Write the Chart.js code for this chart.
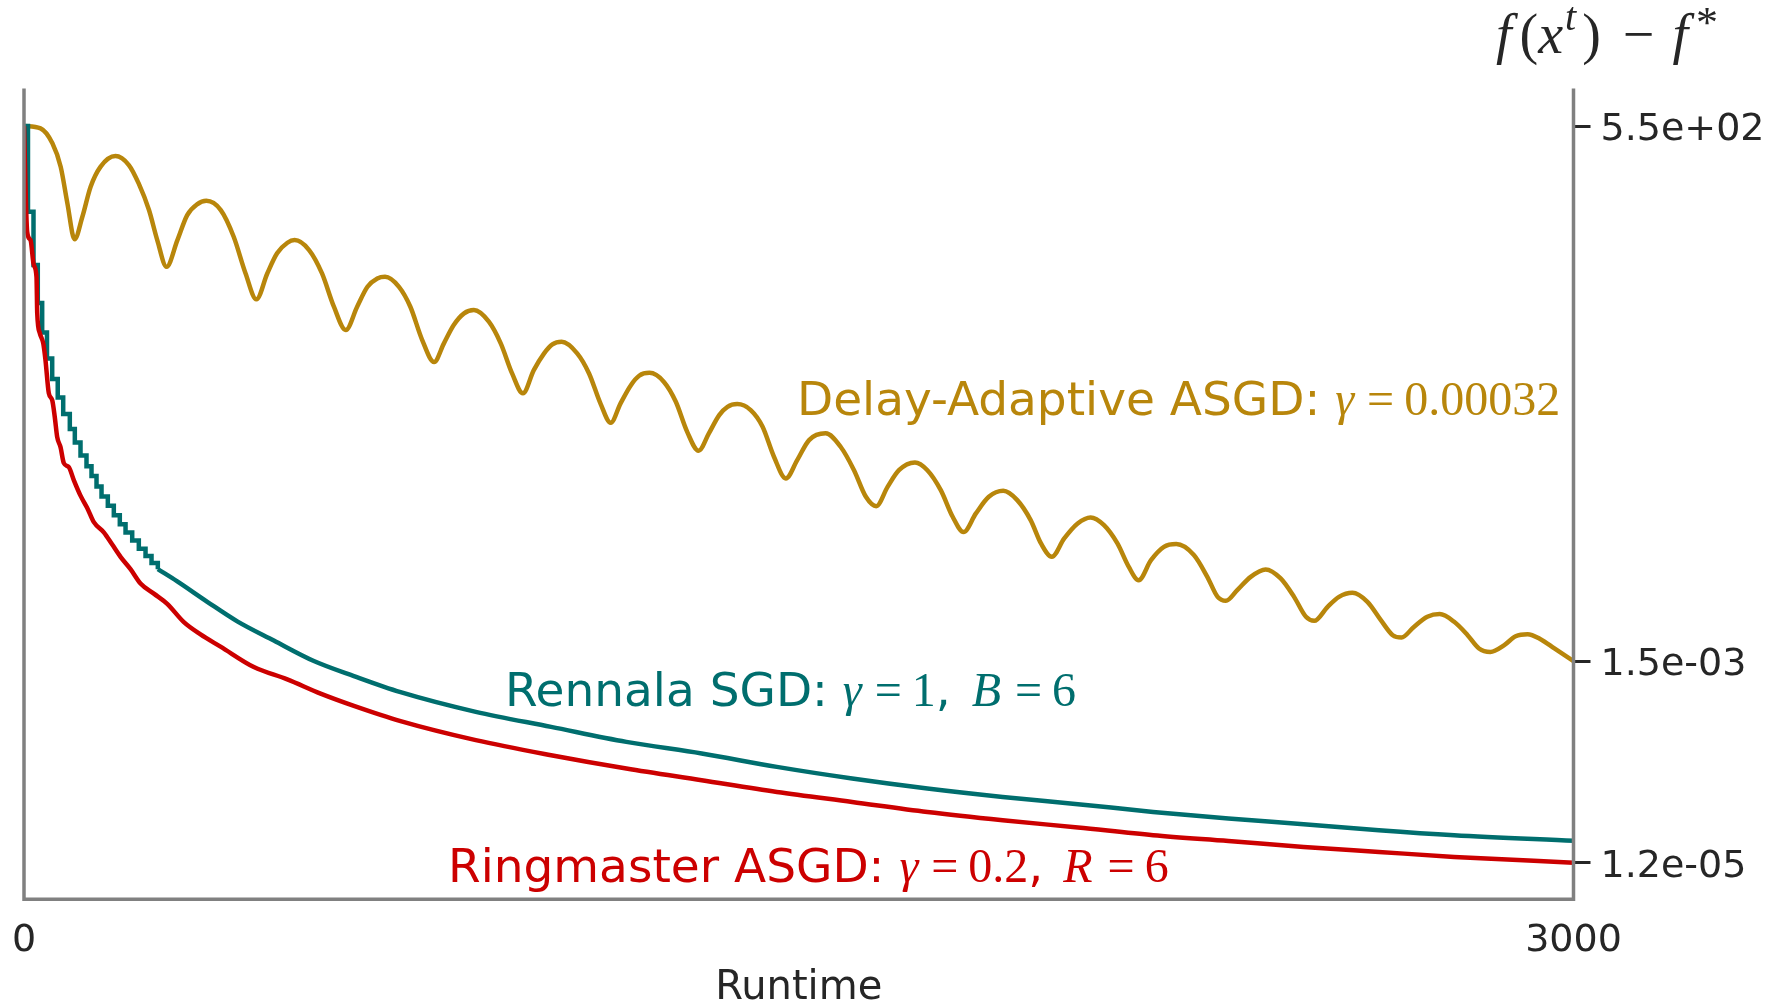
<!DOCTYPE html>
<html>
<head>
<meta charset="utf-8">
<script src="https://cdn.jsdelivr.net/npm/chart.js@4.4.1/dist/chart.umd.min.js"></script>
<style>
  html, body { margin: 0; padding: 0; background: #fff; }
  canvas { display: block; }
</style>
</head>
<body>
<canvas id="runtimeChart" width="1770" height="1005"></canvas>
<script>
// Delay-Adaptive ASGD
const delayTimes = [0, 32, 55, 71, 84, 98, 113, 129, 148, 177, 203, 222, 242, 258, 276, 297, 316, 335, 353, 381, 406, 429, 450, 471, 490, 510, 524, 552, 577, 600, 623, 645, 665, 684, 699, 726, 748, 771, 794, 813, 832, 852, 871, 900, 923, 945, 966, 987, 1007, 1023, 1041, 1071, 1094, 1116, 1136, 1155, 1175, 1191, 1211, 1239, 1262, 1284, 1306, 1326, 1346, 1362, 1381, 1407, 1430, 1452, 1475, 1497, 1520, 1552, 1581, 1607, 1630, 1650, 1672, 1694, 1725, 1749, 1775, 1798, 1819, 1843, 1868, 1896, 1923, 1949, 1969, 1990, 2014, 2040, 2065, 2091, 2117, 2139, 2158, 2182, 2207, 2231, 2265, 2291, 2311, 2327, 2349, 2375, 2404, 2433, 2459, 2482, 2498, 2524, 2546, 2572, 2601, 2627, 2650, 2667, 2691, 2717, 2741, 2769, 2795, 2817, 2839, 2866, 2888, 2911, 2937, 2963, 3000];
const delayLoss = [550, 520, 363, 207, 86.3, 36.5, 62.6, 128.5, 207, 268, 216, 139, 73.5, 35.8, 18.9, 35.8, 65.2, 84.3, 91.8, 73.5, 38.8, 16.1, 8.66, 16.1, 26.1, 33.6, 35.8, 28.2, 16.1, 7.26, 4.15, 7.26, 11.7, 14.3, 14.9, 11.7, 7.26, 3.27, 1.93, 3.02, 4.68, 6.19, 6.70, 5.07, 3.02, 1.47, 0.912, 1.59, 2.38, 2.95, 3.14, 2.38, 1.47, 0.718, 0.451, 0.718, 1.11, 1.39, 1.49, 1.20, 0.746, 0.363, 0.231, 0.350, 0.542, 0.661, 0.706, 0.611, 0.410, 0.200, 0.119, 0.1845, 0.298, 0.350, 0.254, 0.145, 0.0766, 0.0613, 0.0973, 0.145, 0.1746, 0.145, 0.0899, 0.0475, 0.0329, 0.0515, 0.0766, 0.0885, 0.0708, 0.0439, 0.0251, 0.0182, 0.0283, 0.0405, 0.0468, 0.0389, 0.0251, 0.0143, 0.0104, 0.0168, 0.0231, 0.0247, 0.0190, 0.01128, 0.00698, 0.00635, 0.0082, 0.01128, 0.01346, 0.01085, 0.00698, 0.00433, 0.00393, 0.0055, 0.00698, 0.00769, 0.00619, 0.0040, 0.00279, 0.00264, 0.0034, 0.00433, 0.00462, 0.00384, 0.00279, 0.00203, 0.00187, 0.0022, 0.00272, 0.00286, 0.00252, 0.00203, 0.0015];

// Rennala SGD: staircase at the start, then a smooth tail
const rennalaStepTimes = [0, 7.7, 18.4, 26.7, 35.2, 44.5, 54.6, 65.3, 75.9, 88.7, 98.4, 109.4, 121.0, 130.7, 140.4, 150.1, 162.3, 173.9, 185.5, 196.6, 209.5, 222.3, 235.3, 246.9, 259.1];
const rennalaStepLoss = [550, 70.6, 19.7, 7.93, 3.91, 2.10, 1.284, 0.824, 0.557, 0.388, 0.281, 0.206, 0.159, 0.126, 0.0978, 0.0774, 0.0618, 0.0493, 0.0397, 0.0327, 0.0269, 0.0221, 0.0186, 0.0157, 0.01356];
const rennalaTimes = [259.1, 296.7, 354.8, 412.9, 483.7, 561.2, 638.7, 729.1, 874.7, 1020.5, 1166.2, 1312, 1457.6, 1603.4, 1749.1, 1894.9, 2040.5, 2186.1, 2331.9, 2477.6, 2623.3, 2769, 3000];
const rennalaLoss = [0.01356, 0.01012, 0.00621, 0.003885, 0.002452, 0.001504, 0.001048, 0.000713, 0.000445, 0.0003105, 0.0002168, 0.0001642, 0.0001191, 9.02e-5, 7.10e-5, 5.80e-5, 4.88e-5, 4.05e-5, 3.46e-5, 3.02e-5, 2.615e-5, 2.32e-5, 2.03e-5];

// Ringmaster ASGD
const ringTimes = [0, 6.2, 12.6, 19.0, 24.2, 25.6, 30.6, 37.2, 41.6, 48.0, 54.6, 59.6, 64.3, 70.7, 77.1, 86.8, 96.4, 109.4, 122.4, 135.2, 154.5, 170.8, 186.9, 206.2, 225.6, 251.4, 277.3, 309.5, 341.8, 380.5, 445, 509.7, 574.2, 638.7, 729.1, 874.7, 1020.5, 1166.2, 1312, 1457.6, 1603.4, 1749.1, 1894.9, 2040.5, 2186.1, 2331.9, 2477.6, 2623.3, 2769, 3000];
const ringLoss = [550, 43.4, 35.8, 19.7, 14.8, 6.24, 3.86, 3.04, 2.02, 0.918, 0.776, 0.517, 0.320, 0.252, 0.1717, 0.156, 0.1143, 0.0788, 0.0587, 0.0418, 0.0327, 0.0244, 0.0182, 0.01356, 0.00963, 0.00754, 0.0059, 0.00381, 0.00284, 0.00212, 0.0013, 0.000968, 0.000688, 0.000513, 0.000356, 0.0002258, 0.0001576, 0.0001146, 8.66e-5, 6.54e-5, 5.15e-5, 4.05e-5, 3.32e-5, 2.79e-5, 2.32e-5, 2.02e-5, 1.752e-5, 1.555e-5, 1.38e-5, 1.2e-5];

// Axis ticks
const xTicks = [0, 3000];
const yTicks = [5.5e2, 1.5e-3, 1.2e-5];

const gold = "#b8860b";
const teal = "#006e6e";
const red = "#cc0000";
const textColor = "#262626";

function toPoints(times, values) {
  return times.map((t, i) => ({ x: t, y: values[i] }));
}

// 5.5e+02 style labels
function sciLabel(v) {
  const parts = Number(v).toExponential(1).split("e");
  const sign = parts[1][0];
  const exp = parts[1].slice(1).padStart(2, "0");
  return parts[0] + "e" + sign + exp;
}

// Draws a row of text pieces with mixed fonts, left to right
function drawRuns(ctx, x, y, runs, color) {
  ctx.fillStyle = color;
  ctx.textAlign = "left";
  ctx.textBaseline = "alphabetic";
  runs.forEach((r) => {
    ctx.font = r.font;
    x += r.before || 0;
    ctx.fillText(r.text, x, y - (r.rise || 0));
    x += ctx.measureText(r.text).width + (r.after || 0);
  });
}

const sans = '47px "DejaVu Sans"';
const mathIt = 'italic 48px "Liberation Serif"';
const mathRm = '48px "Liberation Serif"';
const eq = { text: "=", font: mathRm, before: 10, after: 10 };

const overlay = {
  id: "overlay",
  afterDraw(chart) {
    const ctx = chart.ctx;
    const a = chart.chartArea;
    ctx.save();

    // spines: left, bottom, right
    ctx.strokeStyle = "#808080";
    ctx.lineWidth = 3.5;
    ctx.lineCap = "butt";
    ctx.beginPath();
    ctx.moveTo(a.left, a.top);
    ctx.lineTo(a.left, a.bottom);
    ctx.lineTo(a.right, a.bottom);
    ctx.lineTo(a.right, a.top);
    ctx.stroke();

    // curve labels
    drawRuns(ctx, 797, 415, [
      { text: "Delay-Adaptive ASGD: ", font: sans },
      { text: "γ", font: mathIt, after: 3 },
      eq,
      { text: "0.00032", font: mathRm },
    ], gold);

    drawRuns(ctx, 505, 706, [
      { text: "Rennala SGD: ", font: sans },
      { text: "γ", font: mathIt, after: 3 },
      eq,
      { text: "1", font: mathRm },
      { text: ", ", font: sans },
      { text: "B", font: mathIt, before: 6, after: 4 },
      eq,
      { text: "6", font: mathRm },
    ], teal);

    drawRuns(ctx, 448, 882, [
      { text: "Ringmaster ASGD: ", font: sans },
      { text: "γ", font: mathIt, after: 3 },
      eq,
      { text: "0.2", font: mathRm },
      { text: ", ", font: sans },
      { text: "R", font: mathIt, before: 5, after: 5 },
      eq,
      { text: "6", font: mathRm },
    ], red);

    // y axis title
    const big = 56;
    drawRuns(ctx, 1496, 53, [
      { text: "f", font: `italic ${big}px "Liberation Serif"`, after: 8 },
      { text: "(", font: `${big}px "Liberation Serif"` },
      { text: "x", font: `italic ${big}px "Liberation Serif"`, after: 2 },
      { text: "t", font: `italic 40px "Liberation Serif"`, rise: 23, after: 6 },
      { text: ")", font: `${big}px "Liberation Serif"` },
      { text: "\u2212", font: `${big}px "Liberation Serif"`, before: 22, after: 18 },
      { text: "f", font: `italic ${big}px "Liberation Serif"`, after: 8 },
      { text: "*", font: `44px "Liberation Serif"`, rise: 16 },
    ], textColor);

    ctx.restore();
  },
};

new Chart(document.getElementById("runtimeChart"), {
  type: "line",
  data: {
    datasets: [
      {
        label: "Ringmaster ASGD",
        data: toPoints(ringTimes, ringLoss),
        borderColor: red,
        borderWidth: 4.5,
        cubicInterpolationMode: "monotone",
      },
      {
        label: "Rennala SGD",
        data: toPoints(rennalaStepTimes, rennalaStepLoss),
        borderColor: teal,
        borderWidth: 4.5,
        stepped: "before",
      },
      {
        label: "Rennala SGD tail",
        data: toPoints(rennalaTimes, rennalaLoss),
        borderColor: teal,
        borderWidth: 4.5,
        cubicInterpolationMode: "monotone",
      },
      {
        label: "Delay-Adaptive ASGD",
        data: toPoints(delayTimes, delayLoss),
        borderColor: gold,
        borderWidth: 4.5,
        cubicInterpolationMode: "monotone",
      },
    ],
  },
  options: {
    responsive: false,
    animation: false,
    devicePixelRatio: 1,
    parsing: false,
    elements: { point: { radius: 0 }, line: { fill: false } },
    layout: { padding: { left: 24, top: 88.5, right: 0, bottom: 0 } },
    plugins: { legend: { display: false }, tooltip: { enabled: false } },
    scales: {
      x: {
        type: "linear",
        min: 0,
        max: 3000,
        bounds: "data",
        afterBuildTicks: (scale) => {
          scale.ticks = xTicks.map((v) => ({ value: v }));
        },
        afterFit: (scale) => {
          scale.height = 105.7;
          scale.paddingLeft = 0;
          scale.paddingRight = 0;
        },
        grid: { display: false, drawTicks: false },
        border: { display: false },
        ticks: {
          color: textColor,
          font: { family: "DejaVu Sans", size: 38, lineHeight: 1 },
          padding: 23,
          maxRotation: 0,
          autoSkip: false,
          callback: (v) => String(v),
        },
        title: {
          display: true,
          text: "Runtime",
          color: textColor,
          font: { family: "DejaVu Sans", size: 40, lineHeight: 1 },
          padding: { top: 0, bottom: -4 },
        },
      },
      y: {
        type: "logarithmic",
        position: "right",
        min: 5e-6,
        max: 1.35e3,
        bounds: "data",
        afterBuildTicks: (scale) => {
          scale.ticks = yTicks.map((v) => ({ value: v }));
        },
        afterFit: (scale) => {
          scale.width = 1770 - 1573.5;
          scale.paddingTop = 0;
          scale.paddingBottom = 0;
        },
        grid: {
          display: true,
          drawOnChartArea: false,
          drawTicks: true,
          tickLength: 17,
          tickWidth: 3,
          tickColor: textColor,
        },
        border: { display: false },
        ticks: {
          color: textColor,
          font: { family: "DejaVu Sans", size: 38 },
          padding: 10,
          labelOffset: 4,
          autoSkip: false,
          callback: (v) => sciLabel(v),
        },
      },
    },
  },
  plugins: [overlay],
});
</script>
</body>
</html>
